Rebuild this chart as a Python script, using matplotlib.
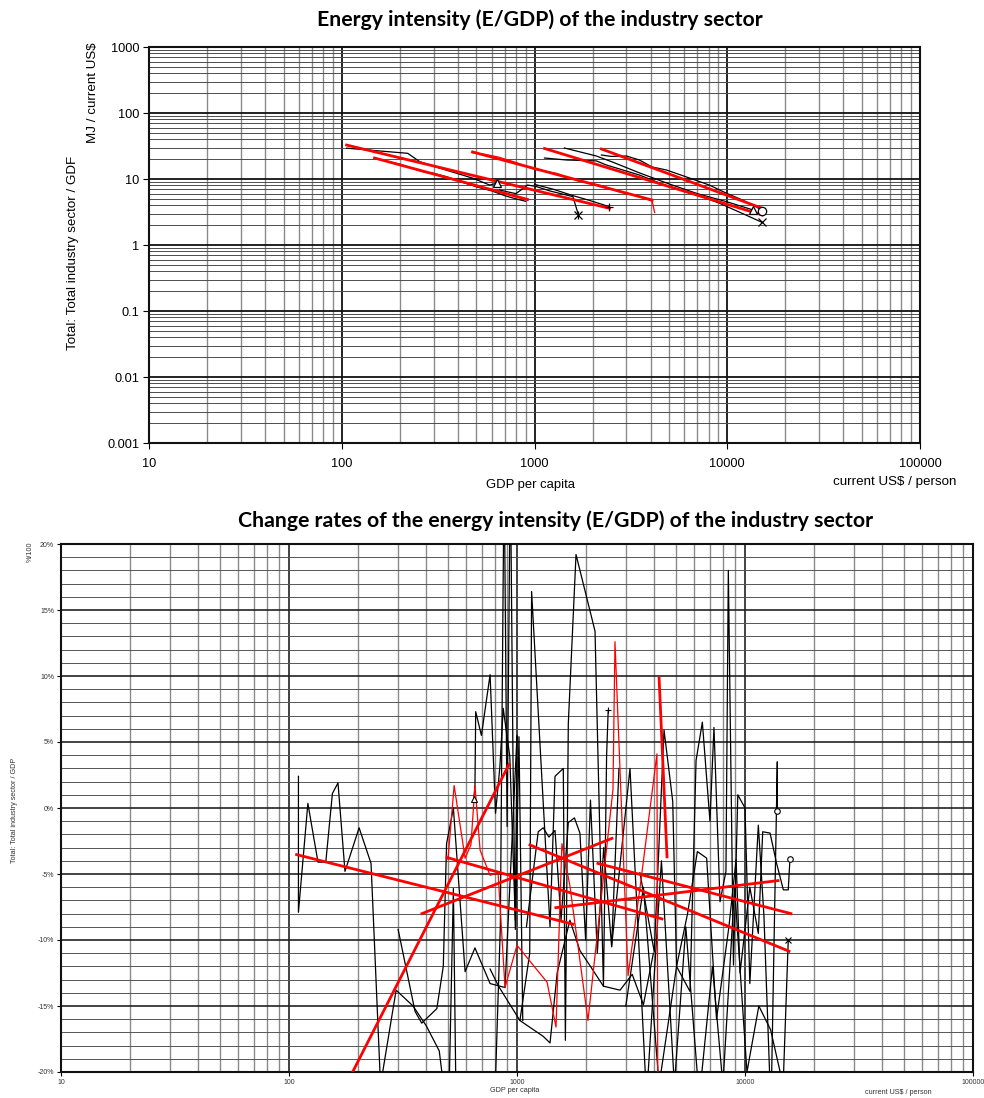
import numpy as np
import matplotlib
matplotlib.use("Agg")
import matplotlib.pyplot as plt
from matplotlib.ticker import LogLocator, MultipleLocator, NullFormatter, FuncFormatter

plt.rcParams['font.family'] = ['Liberation Sans', 'DejaVu Sans']

# ---------------- Top panel: energy intensity (MJ / current US$) ----------------
ta_gdp = [106, 157, 220, 254, 322, 478, 585, 636]
ta_int = [29.3, 26.6, 24.5, 18.3, 14.6, 10.3, 8.1, 8.6]
tb_gdp = [290, 350, 420, 500, 600, 700, 800, 900]
tb_int = [12.5, 10.8, 9.0, 7.6, 6.6, 5.6, 5.0, 4.6]
td_gdp = [659, 800, 850, 920, 1020, 1200, 1400, 1583, 1690]
td_int = [6.8, 6.0, 6.8, 8.1, 7.7, 6.6, 5.9, 5.4, 2.85]
tc_gdp = [1000, 1250, 1583, 1900, 2200, 2448]
tc_int = [8.3, 7.0, 5.6, 4.8, 4.2, 3.8]
te_gdp = [1127, 1466, 2094, 2359, 3499, 5000, 6590, 9100, 12000, 15170]
te_int = [20.8, 19.4, 18.8, 16.3, 11.5, 7.6, 6.1, 4.3, 3.0, 2.2]
tf_gdp = [1430, 2094, 2535, 3499, 5000, 7000, 10000, 13600]
tf_int = [29.5, 22.3, 18.1, 12.4, 8.4, 6.0, 4.5, 3.4]
tg_gdp = [2224, 2500, 3000, 3499, 4080, 4830, 6000, 8070, 9890, 12000, 14130, 15170]
tg_int = [23.1, 22.0, 22.3, 19.4, 15.2, 13.7, 11.0, 8.1, 6.1, 4.8, 3.8, 3.3]
# red data series (top)
tr1_gdp = [477, 560, 650, 800, 1000, 1300, 1700, 2200, 2800, 3400, 4080, 4200]
tr1_int = [25.0, 23.5, 21.5, 17.8, 14.0, 12.2, 9.3, 8.0, 6.3, 5.6, 4.6, 3.1]
tr2_gdp = [148, 200, 260, 330, 420, 520, 650, 800, 920]
tr2_int = [20.5, 16.8, 13.0, 11.2, 9.0, 7.6, 6.6, 5.4, 4.8]
# red fitted trend lines (top): start/end GDP and intensity
top_fit_x0 = [106, 148, 477, 1127, 2224]
top_fit_x1 = [2448, 920, 4080, 15170, 15170]
top_fit_y0 = [32.7, 20.8, 25.7, 29.0, 28.5]
top_fit_y1 = [3.6, 4.9, 4.8, 2.85, 3.6]

# ---------------- Bottom panel: change rates (%) ----------------
b1_gdp = [110, 110, 121, 134, 145, 155, 164, 176, 203, 229, 252]
b1_chg = [2.4, -7.9, 0.35, -4.1, -4.1, 1.1, 1.9, -4.8, -1.5, -4.2, -21]
b2_gdp = [301, 357, 382, 445, 475, 491, 526, 592, 654, 762, 886, 1000]
b2_chg = [-9.2, -15.4, -16.3, -15.2, -12.0, -2.7, 0.0, -12.4, -10.6, -13.3, -13.6, 5.5]
b3_gdp = [252, 295, 350, 400, 456, 500, 526, 540]
b3_chg = [-21, -13.8, -15.0, -16.5, -18.4, -24, -6.1, -22]
b4_gdp = [1000, 983, 930, 870, 841, 805, 762, 698, 659, 654, 647]
b4_chg = [5.4, -8.5, 3.9, 7.55, 3.1, -0.4, 10.1, 5.5, 7.3, 1.7, 0.7]
b5_gdp = [800, 845, 878, 905, 935, 960, 983, 1020, 1060]
b5_chg = [-22, -9, 26, -1.4, 26, 3.9, -9.2, 5.4, -16.1]
b6_gdp = [1030, 1137, 1159, 1396, 1468, 1596, 1630, 1679, 1815, 2199, 2394, 2472, 2512]
b6_chg = [-16.1, -11.0, 16.4, -9.0, 2.4, 3.0, -17.6, 6.4, 19.2, 13.4, -13.5, 4.0, 7.4]
b7_gdp = [1100, 1239, 1303, 1380, 1468, 1560, 1679, 1786, 1888, 2000, 2100, 2250, 2400, 2600, 2800]
b7_chg = [-9.0, -1.8, -1.5, -2.2, -1.7, -8.5, -1.1, -0.75, -1.9, -10.0, 0.6, -11.0, -3.0, -10.5, 3.0]
b8_gdp = [762, 830, 1030, 1303, 1396, 1500, 1706, 1888, 2100, 2394, 2832, 3200, 3585, 3963]
b8_chg = [-12.2, -13.5, -16.1, -17.3, -17.8, -12.5, -8.5, -10.8, -12.0, -13.5, -13.8, -12.6, -14.9, -11.0]
b9_gdp = [3460, 4000, 4415, 4820, 5010, 5740, 6100, 6500, 7020, 7310, 7770, 8250, 8450, 8900, 9300,
          10000, 10500, 11440, 12110, 13000, 13860, 13860]
b9_chg = [-4.9, -10.9, 5.9, 0.5, -12.0, -13.9, 3.6, 6.5, -1.0, 6.1, -7.1, -4.8, 18.0, -11.9, 1.0,
          0.0, -13.3, -1.3, -8.2, -23, 3.5, -0.2]
b10_gdp = [3000, 3585, 4200, 5010, 5600, 6180, 6790, 7500, 8500, 9140, 9510, 10500, 11440, 11960,
           12880, 13760, 14730, 15480, 15740]
b10_chg = [-15, -6, -21, -12.0, -8, -3.3, -3.8, -16, -9, -3.9, -12.5, -6.0, -9.5, -1.8,
           -1.9, -4.2, -6.2, -6.2, -3.9]
b11_gdp = [2600, 3130, 3700, 4300, 4900, 5500, 6300, 7200, 8000, 9000, 10200, 11500, 12950, 14700, 15480]
b11_chg = [-10.5, 3.0, -22, -4.0, -21, -9.0, -22, -12, -21, -6, -20, -15, -16.8, -21, -10.0]
# red data series (bottom)
rd_gdp = [498, 530, 592, 628, 654, 689, 762, 826, 886, 1000, 1355, 1483, 1574, 1706, 2048, 2636, 2690,
          3070, 3460, 4110, 4150]
rd_chg = [-3.9, 1.7, -3.8, -2.8, 1.7, -3.2, -5.1, -4.9, -13.6, -10.4, -13.2, -16.6, -2.7, -5.9, -16.1,
          1.4, 12.6, -12.7, -6.1, 4.1, -25]
# red fitted trend lines (bottom)
bot_fit_x0 = [108, 150, 383, 493, 1140, 2265, 1480, 4200]
bot_fit_x1 = [1760, 922, 2610, 4325, 15600, 15900, 13960, 4550]
bot_fit_y0 = [-3.53, -23.5, -8.0, -3.75, -2.8, -4.2, -7.55, 9.85]
bot_fit_y1 = [-8.8, 3.3, -2.3, -8.4, -10.85, -8.0, -5.5, -3.7]

W, H = 984, 1098
fig = plt.figure(figsize=(W / 100, H / 100), dpi=100)

# ----- top axes -----
ax1 = fig.add_axes([149 / W, 1 - 443 / H, 771 / W, 396 / H])
ax1.set_xscale('log')
ax1.set_yscale('log')
ax1.set_xlim(10, 100000)
ax1.set_ylim(0.001, 1000)
sub = np.arange(2, 10)
ax1.xaxis.set_major_locator(LogLocator(10))
ax1.xaxis.set_minor_locator(LogLocator(10, subs=sub, numticks=50))
ax1.yaxis.set_major_locator(LogLocator(10, numticks=20))
ax1.yaxis.set_minor_locator(LogLocator(10, subs=sub, numticks=80))
ax1.xaxis.set_minor_formatter(NullFormatter())
ax1.yaxis.set_minor_formatter(NullFormatter())
fmt = FuncFormatter(lambda v, p: ('%g' % v) if v >= 1 else ('%.3f' % v).rstrip('0'))
ax1.xaxis.set_major_formatter(FuncFormatter(lambda v, p: '%d' % v))
ax1.yaxis.set_major_formatter(fmt)
ax1.grid(which='major', color='#111111', lw=1.3)
ax1.grid(which='minor', axis='x', color='#8a8a8a', lw=1.0)
ax1.grid(which='minor', axis='y', color='#4d4d4d', lw=0.7)
ax1.tick_params(which='minor', length=0)
ax1.tick_params(which='major', length=4, labelsize=9.2)
ax1.tick_params(axis='x', pad=7)
ax1.tick_params(axis='y', pad=3)
for s in ax1.spines.values():
    s.set_linewidth(1.5)
    s.set_color('#111111')

for gx, gy in [(ta_gdp, ta_int), (tb_gdp, tb_int), (td_gdp, td_int), (tc_gdp, tc_int),
               (te_gdp, te_int), (tf_gdp, tf_int), (tg_gdp, tg_int)]:
    ax1.plot(gx, gy, color='black', lw=0.9, zorder=3)
for gx, gy in [(tr1_gdp, tr1_int), (tr2_gdp, tr2_int)]:
    ax1.plot(gx, gy, color='#ff0000', lw=0.9, zorder=3)
for x0, x1, y0, y1 in zip(top_fit_x0, top_fit_x1, top_fit_y0, top_fit_y1):
    ax1.plot([x0, x1], [y0, y1], color='#ff0000', lw=2.0, zorder=4)
mk = dict(color='black', ms=6, mew=0.9, mfc='white', zorder=5, ls='none')
ax1.plot(ta_gdp[-1], ta_int[-1], marker='^', **mk)
ax1.plot(td_gdp[-1], td_int[-1], marker='x', **mk)
ax1.plot(td_gdp[-1], td_int[-1], marker='|', **mk)
ax1.plot(tc_gdp[-1], tc_int[-1], marker='+', **mk)
ax1.plot(te_gdp[-1], te_int[-1], marker='x', **mk)
ax1.plot(tf_gdp[-1], tf_int[-1], marker='^', **mk)
ax1.plot(tg_gdp[-1], tg_int[-1], marker='o', **mk)

fig.text(540 / W, 1 - 20 / H, 'Energy intensity (E/GDP) of the industry sector',
         ha='center', va='center', fontsize=15.3, fontweight='bold', family='Lato')
fig.text(73 / W, 1 - 253 / H, 'Total: Total industry sector / GDF', rotation=90,
         ha='center', va='center', fontsize=9.6)
fig.text(93 / W, 1 - 93 / H, 'MJ / current US$', rotation=90, ha='center', va='center', fontsize=9.6)
fig.text(530 / W, 1 - 485 / H, 'GDP per capita', ha='center', va='center', fontsize=9.4)
fig.text(895 / W, 1 - 482 / H, 'current US$ / person', ha='center', va='center', fontsize=9.6)

# ----- bottom axes -----
ax2 = fig.add_axes([61 / W, 1 - 1072 / H, 912 / W, 528 / H])
ax2.set_xscale('log')
ax2.set_xlim(10, 100000)
ax2.set_ylim(-0.20, 0.20)
ax2.xaxis.set_major_locator(LogLocator(10))
ax2.xaxis.set_minor_locator(LogLocator(10, subs=sub, numticks=50))
ax2.xaxis.set_minor_formatter(NullFormatter())
ax2.xaxis.set_major_formatter(FuncFormatter(lambda v, p: '%d' % v))
ax2.yaxis.set_major_locator(MultipleLocator(0.05))
ax2.yaxis.set_minor_locator(MultipleLocator(0.01))
ax2.yaxis.set_major_formatter(FuncFormatter(lambda v, p: '%d%%' % round(v * 100)))
ax2.grid(which='major', color='#222222', lw=1.2)
ax2.grid(which='minor', axis='x', color='#8a8a8a', lw=1.0)
ax2.grid(which='minor', axis='y', color='#555555', lw=0.7)
ax2.tick_params(which='minor', length=0)
ax2.tick_params(which='major', length=3, labelsize=5.0, pad=2, labelcolor='#333333')
for s in ax2.spines.values():
    s.set_linewidth(1.5)
    s.set_color('#111111')

black_sets = [(b1_gdp, b1_chg), (b2_gdp, b2_chg), (b3_gdp, b3_chg), (b4_gdp, b4_chg),
              (b5_gdp, b5_chg), (b6_gdp, b6_chg), (b7_gdp, b7_chg), (b8_gdp, b8_chg),
              (b9_gdp, b9_chg), (b10_gdp, b10_chg), (b11_gdp, b11_chg)]
for gx, gy in black_sets:
    ax2.plot(gx, np.array(gy) / 100, color='black', lw=0.9, zorder=3)
ax2.plot(rd_gdp, np.array(rd_chg) / 100, color='#ff0000', lw=0.9, zorder=3)
for x0, x1, y0, y1 in zip(bot_fit_x0, bot_fit_x1, bot_fit_y0, bot_fit_y1):
    ax2.plot([x0, x1], [y0 / 100, y1 / 100], color='#ff0000', lw=2.0, zorder=4)
mk2 = dict(color='black', ms=4, mew=0.8, mfc='white', zorder=5, ls='none')
ax2.plot(b4_gdp[-1], b4_chg[-1] / 100, marker='^', **mk2)
ax2.plot(b6_gdp[-1], b6_chg[-1] / 100, marker='+', **mk2)
ax2.plot(b9_gdp[-1], b9_chg[-1] / 100, marker='o', **mk2)
ax2.plot(b10_gdp[-1], b10_chg[-1] / 100, marker='o', **mk2)
ax2.plot(b11_gdp[-1], b11_chg[-1] / 100, marker='x', **mk2)

fig.text(556 / W, 1 - 521 / H, 'Change rates of the energy intensity (E/GDP) of the industry sector',
         ha='center', va='center', fontsize=15.3, fontweight='bold', family='Lato')
fig.text(30 / W, 1 - 552 / H, '%/100', rotation=90, ha='center', va='center', fontsize=5.2, color='#333333')
fig.text(15 / W, 1 - 810 / H, 'Total: Total industry sector / GDP', rotation=90,
         ha='center', va='center', fontsize=5.2, color='#333333')
fig.text(515 / W, 1 - 1090 / H, 'GDP per capita', ha='center', va='center', fontsize=5.2, color='#333333')
fig.text(898 / W, 1 - 1092 / H, 'current US$ / person', ha='center', va='center', fontsize=5.2, color='#333333')

fig.savefig('out.png', dpi=100)
